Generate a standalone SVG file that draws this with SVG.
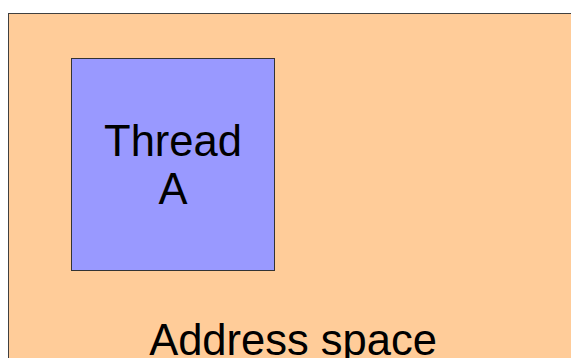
<svg xmlns="http://www.w3.org/2000/svg" width="571" height="358" viewBox="0 0 571 358">
<style>
.t{font-family:"Liberation Sans",Arial,sans-serif;font-size:43.5px;fill:#000;text-anchor:middle}
</style>
<rect width="571" height="358" fill="#fff"/>
<g id="address-space">
<rect x="8.5" y="13.5" width="580" height="360" fill="#ffcc99" stroke="#404040" stroke-width="1"/>
<text class="t" x="293" y="355">Address space</text>
</g>
<g id="thread-a">
<rect x="71.5" y="58.5" width="203" height="212" fill="#9999ff" stroke="#333" stroke-width="1"/>
<text class="t" x="173" y="156">Thread</text>
<text class="t" x="173" y="204">A</text>
</g>
</svg>
